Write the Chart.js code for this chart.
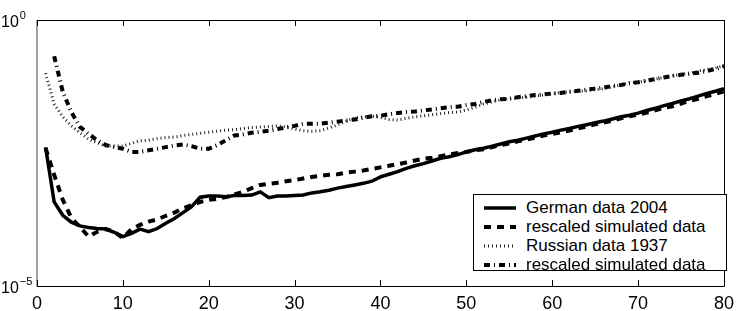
<!DOCTYPE html>
<html>
<head>
<meta charset="utf-8">
<script src="https://cdn.jsdelivr.net/npm/chart.js@4.4.1/dist/chart.umd.min.js"></script>
<style>
  html, body { margin: 0; padding: 0; background: #fff; }
  #wrap { position: relative; width: 741px; height: 311px; }
  #legend {
    position: absolute; left: 473px; top: 194px; width: 252px; height: 75px;
    border: 1px solid #000; background: #fff;
    font-family: "Liberation Sans", Arial, sans-serif; font-size: 17px; color: #000;
  }
  #legend ul { list-style: none; margin: 0; padding: 3px 0 0 0; }
  #legend li { display: flex; align-items: center; height: 19px; white-space: nowrap; }
  #legend svg { margin: 0 10px; flex: none; }
</style>
</head>
<body>
<div id="wrap">
  <canvas id="mortality"></canvas>
  <div id="legend"><ul></ul></div>
</div>
<script>
// Ages (x axis)
const ages = [
  1, 2, 3, 4, 5, 6, 7, 8, 9, 10, 11, 12, 13, 14, 15, 16, 17, 18, 19, 20,
  21, 22, 23, 24, 25, 26, 27, 28, 29, 30, 31, 32, 33, 34, 35, 36, 37, 38, 39, 40,
  41, 42, 43, 44, 45, 46, 47, 48, 49, 50, 51, 52, 53, 54, 55, 56, 57, 58, 59, 60,
  61, 62, 63, 64, 65, 66, 67, 68, 69, 70, 71, 72, 73, 74, 75, 76, 77, 78, 79, 80,
];

// Mortality, stored as log10 values
const german2004 = [
  -2.39, -3.42, -3.67, -3.80, -3.87, -3.90, -3.92, -3.93, -3.99, -4.07,
  -4.01, -3.93, -3.98, -3.92, -3.82, -3.73, -3.62, -3.51, -3.33, -3.31,
  -3.31, -3.32, -3.30, -3.30, -3.29, -3.23, -3.34, -3.31, -3.31, -3.30,
  -3.29, -3.25, -3.23, -3.20, -3.16, -3.13, -3.10, -3.07, -3.03, -2.95,
  -2.90, -2.85, -2.79, -2.74, -2.70, -2.65, -2.60, -2.57, -2.53, -2.48,
  -2.44, -2.41, -2.37, -2.33, -2.29, -2.26, -2.22, -2.18, -2.14, -2.11,
  -2.07, -2.04, -2.00, -1.97, -1.93, -1.90, -1.86, -1.82, -1.79, -1.75,
  -1.70, -1.66, -1.61, -1.57, -1.52, -1.48, -1.43, -1.38, -1.34, -1.29,
];
const simGerman = [
  -2.41, -2.91, -3.38, -3.72, -3.89, -4.07, -3.98, -3.93, -3.98, -4.10,
  -3.93, -3.85, -3.79, -3.75, -3.68, -3.62, -3.54, -3.48, -3.42, -3.38,
  -3.36, -3.33, -3.28, -3.23, -3.16, -3.10, -3.08, -3.06, -3.03, -3.01,
  -2.98, -2.95, -2.93, -2.91, -2.90, -2.87, -2.85, -2.83, -2.80, -2.77,
  -2.74, -2.71, -2.68, -2.64, -2.61, -2.59, -2.56, -2.53, -2.50, -2.48,
  -2.45, -2.43, -2.39, -2.35, -2.32, -2.28, -2.25, -2.21, -2.17, -2.14,
  -2.11, -2.08, -2.04, -2.00, -1.96, -1.93, -1.89, -1.85, -1.81, -1.78,
  -1.74, -1.70, -1.65, -1.62, -1.57, -1.52, -1.48, -1.43, -1.39, -1.34,
];
const russian1937 = [
  -1.00, -1.58, -1.82, -1.99, -2.12, -2.24, -2.31, -2.37, -2.37, -2.37,
  -2.32, -2.27, -2.26, -2.23, -2.21, -2.20, -2.17, -2.15, -2.13, -2.11,
  -2.09, -2.07, -2.06, -2.04, -2.02, -2.01, -2.00, -1.99, -2.01, -2.05,
  -2.08, -2.09, -2.08, -2.03, -1.97, -1.90, -1.84, -1.82, -1.81, -1.83,
  -1.87, -1.88, -1.85, -1.82, -1.80, -1.78, -1.76, -1.74, -1.73, -1.69,
  -1.64, -1.58, -1.54, -1.50, -1.48, -1.47, -1.45, -1.43, -1.41, -1.39,
  -1.36, -1.35, -1.34, -1.33, -1.31, -1.29, -1.26, -1.22, -1.18, -1.17,
  -1.14, -1.11, -1.08, -1.05, -1.02, -1.00, -0.96, -0.93, -0.90, -0.86,
];
const simRussian = [
  null, -0.68, -1.35, -1.73, -2.01, -2.14, -2.26, -2.35, -2.39, -2.42,
  -2.48, -2.48, -2.45, -2.42, -2.39, -2.36, -2.34, -2.37, -2.42, -2.42,
  -2.35, -2.26, -2.17, -2.15, -2.12, -2.10, -2.08, -2.05, -2.02, -1.99,
  -1.95, -1.95, -1.95, -1.93, -1.91, -1.89, -1.87, -1.84, -1.81, -1.80,
  -1.77, -1.75, -1.73, -1.72, -1.70, -1.68, -1.66, -1.64, -1.63, -1.60,
  -1.58, -1.54, -1.51, -1.49, -1.48, -1.45, -1.43, -1.41, -1.40, -1.38,
  -1.37, -1.35, -1.33, -1.31, -1.29, -1.27, -1.24, -1.22, -1.19, -1.17,
  -1.14, -1.11, -1.08, -1.05, -1.03, -1.01, -0.99, -0.96, -0.92, -0.87,
];

// Axis ticks
const xTicks = [0, 10, 20, 30, 40, 50, 60, 70, 80];
const yTicks = [1, 1e-5];
const yTickExponents = ['0', '\u22125'];

const FONT = '"Liberation Sans", Arial, Helvetica, sans-serif';

const toPoints = (logs) => ages
  .map((a, i) => (logs[i] === null ? null : { x: a, y: 10 ** logs[i] }))
  .filter((p) => p !== null);

// Box, inward ticks and 10^n labels drawn like the original figure
const matlabAxes = {
  id: 'matlabAxes',
  afterDraw(c) {
    const { ctx } = c;
    const { left, right, top, bottom } = c.chartArea;
    const xs = c.scales.x;
    const ys = c.scales.y;
    ctx.save();
    ctx.lineWidth = 1;
    ctx.strokeStyle = '#000';
    ctx.beginPath();
    ctx.moveTo(left, top + 0.5);
    ctx.lineTo(right + 0.5, top + 0.5);
    ctx.lineTo(right + 0.5, bottom + 0.5);
    ctx.lineTo(left, bottom + 0.5);
    ctx.stroke();
    // left axis looks softer in the original
    ctx.strokeStyle = '#444';
    ctx.beginPath();
    ctx.moveTo(left, top);
    ctx.lineTo(left, bottom + 1);
    ctx.stroke();
    // inward ticks top and bottom
    ctx.strokeStyle = '#000';
    ctx.beginPath();
    xTicks.forEach((v) => {
      const px = Math.round(xs.getPixelForValue(v)) + 0.5;
      ctx.moveTo(px, bottom);
      ctx.lineTo(px, bottom - 6);
      ctx.moveTo(px, top);
      ctx.lineTo(px, top + 6);
    });
    ctx.stroke();
    // y labels: 10 with superscript exponent
    ctx.fillStyle = '#000';
    ctx.textAlign = 'left';
    ctx.textBaseline = 'alphabetic';
    yTicks.forEach((v, i) => {
      const py = ys.getPixelForValue(v);
      ctx.font = `16px ${FONT}`;
      ctx.fillText('10', 1, py + 7);
      const w = ctx.measureText('10').width;
      ctx.font = `11px ${FONT}`;
      ctx.fillText(yTickExponents[i], 2 + w, py - 1);
    });
    ctx.restore();
  },
};

const makeSample = (ds) => {
  const ns = 'http://www.w3.org/2000/svg';
  const svg = document.createElementNS(ns, 'svg');
  svg.setAttribute('width', '32');
  svg.setAttribute('height', '8');
  const line = document.createElementNS(ns, 'line');
  line.setAttribute('x1', '0');
  line.setAttribute('y1', '4');
  line.setAttribute('x2', '32');
  line.setAttribute('y2', '4');
  line.setAttribute('stroke', ds.borderColor);
  line.setAttribute('stroke-width', ds.borderWidth);
  if (ds.borderDash) line.setAttribute('stroke-dasharray', ds.borderDash.join(' '));
  svg.appendChild(line);
  return svg;
};

const mortalityChart = () => {
  const ctx = document.getElementById('mortality');
  // eslint-disable-next-line no-unused-vars
  const chart = new Chart(ctx, {
    type: 'line',
    data: {
      datasets: [
        {
          label: 'German data 2004',
          data: toPoints(german2004),
          borderColor: '#000',
          borderWidth: 3.5,
        },
        {
          label: 'rescaled simulated data',
          data: toPoints(simGerman),
          borderColor: '#000',
          borderWidth: 4,
          borderDash: [7, 6],
        },
        {
          label: 'Russian data 1937',
          data: toPoints(russian1937),
          borderColor: '#222',
          borderWidth: 3,
          borderDash: [1, 3],
        },
        {
          label: 'rescaled simulated data',
          data: toPoints(simRussian),
          borderColor: '#000',
          borderWidth: 4,
          borderDash: [6, 4, 1, 4],
        },
      ],
    },
    options: {
      responsive: true,
      maintainAspectRatio: false,
      animation: false,
      parsing: true,
      elements: {
        point: { radius: 0 },
        line: { tension: 0, borderCapStyle: 'butt', borderJoinStyle: 'miter' },
      },
      layout: {
        padding: { top: 20, right: 14, left: 0, bottom: 0 },
      },
      scales: {
        x: {
          type: 'linear',
          min: 0,
          max: 80,
          grid: { display: false, drawTicks: false },
          border: { display: false },
          ticks: {
            stepSize: 10,
            padding: 7,
            maxRotation: 0,
            color: '#000',
            font: { family: FONT, size: 18 },
          },
          afterFit: (s) => { s.height = 25; },
        },
        y: {
          type: 'logarithmic',
          min: 1e-5,
          max: 1,
          grid: { display: false, drawTicks: false },
          border: { display: false },
          ticks: { display: false },
          afterFit: (s) => { s.width = 37; },
        },
      },
      plugins: {
        legend: { display: false },
        tooltip: { enabled: false },
        htmlLegend: { containerID: 'legend' },
      },
    },
    plugins: [matlabAxes, {
      id: 'htmlLegend',
      afterUpdate(c, args, options) {
        const ul = document.getElementById(options.containerID).querySelector('ul');
        if (!ul) return;
        while (ul.firstChild) ul.firstChild.remove();
        c.data.datasets.forEach((ds) => {
          const li = document.createElement('li');
          li.appendChild(makeSample(ds));
          const label = document.createElement('span');
          label.appendChild(document.createTextNode(ds.label));
          li.appendChild(label);
          ul.appendChild(li);
        });
      },
    }],
  });
};

mortalityChart();
</script>
</body>
</html>
